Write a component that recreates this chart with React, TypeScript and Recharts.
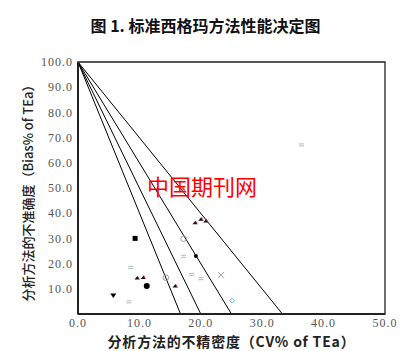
import React from 'react';
import {
  ScatterChart,
  Scatter,
  XAxis,
  YAxis,
  ReferenceLine,
  ReferenceArea,
} from 'recharts';

// sigma levels and where each line meets the x axis (CV% of TEa)
const sigmaLevels = [6, 5, 4, 3];
const sigmaIntercepts = [16.7, 20, 25, 33.3];

const xTicks = [0, 10, 20, 30, 40, 50];
const yTicks = [10, 20, 30, 40, 50, 60, 70, 80, 90, 100];

// points, grouped by marker
const squareBlack = [{ cv: 9.3, bias: 30.0 }];
const circleBlack = [{ cv: 11.2, bias: 11.1 }];
const dotBlack = [{ cv: 19.2, bias: 23.0 }];
const triangleDownBlack = [{ cv: 5.75, bias: 7.3 }];
const triangleBlack = [
  { cv: 9.6, bias: 14.3 },
  { cv: 10.6, bias: 14.5 },
  { cv: 15.8, bias: 11.1 },
  { cv: 19.05, bias: 36.2 },
  { cv: 20.0, bias: 37.6 },
  { cv: 20.8, bias: 36.9 },
];
const openCircleGrey = [
  { cv: 14.3, bias: 14.4 },
  { cv: 17.2, bias: 29.9 },
];
const smallGrey = [
  { cv: 8.6, bias: 18.5 },
  { cv: 8.3, bias: 4.8 },
  { cv: 17.2, bias: 22.9 },
  { cv: 18.5, bias: 15.7 },
  { cv: 20.0, bias: 14.0 },
  { cv: 36.4, bias: 67.1 },
];
const crossGrey = [{ cv: 23.3, bias: 15.5 }];
const diamondCyan = [{ cv: 25.1, bias: 5.3 }];

const cjk = '"Noto Sans CJK SC", sans-serif';
const serif = '"Liberation Serif", "DejaVu Serif", serif';

type P = { cx?: number; cy?: number };

const Square = ({ cx = 0, cy = 0 }: P) => (
  <rect x={cx - 2.5} y={cy - 2.5} width={5} height={5} fill="#000" />
);
const Circle = ({ cx = 0, cy = 0 }: P) => <circle cx={cx} cy={cy} r={3} fill="#000" />;
const Dot = ({ cx = 0, cy = 0 }: P) => <circle cx={cx} cy={cy} r={2} fill="#000" />;
const TriDown = ({ cx = 0, cy = 0 }: P) => (
  <path d={`M${cx - 3},${cy - 2} L${cx + 3},${cy - 2} L${cx},${cy + 2.5} Z`} fill="#000" />
);
const Tri = ({ cx = 0, cy = 0 }: P) => (
  <g>
    <path d={`M${cx - 2.5},${cy + 1.5} L${cx + 2.5},${cy + 1.5} L${cx + 0.5},${cy - 2} Z`} fill="#111" />
    <path d={`M${cx + 0.5},${cy - 2} L${cx + 2.5},${cy + 1.5}`} stroke="#c33" strokeWidth={0.8} />
  </g>
);
const OpenCircle = ({ cx = 0, cy = 0 }: P) => (
  <circle cx={cx} cy={cy} r={2.8} fill="none" stroke="#999" strokeWidth={1} />
);
const SmallGrey = ({ cx = 0, cy = 0 }: P) => (
  <g stroke="#9aa" strokeWidth={0.8}>
    <line x1={cx - 2.5} y1={cy - 1} x2={cx + 2.5} y2={cy - 1} />
    <line x1={cx - 2.5} y1={cy + 1} x2={cx + 2.5} y2={cy + 1} />
  </g>
);
const Cross = ({ cx = 0, cy = 0 }: P) => (
  <g stroke="#a9a0b8" strokeWidth={1}>
    <line x1={cx - 3} y1={cy - 3} x2={cx + 3} y2={cy + 3} />
    <line x1={cx - 3} y1={cy + 3} x2={cx + 3} y2={cy - 3} />
  </g>
);
const Diamond = ({ cx = 0, cy = 0 }: P) => (
  <path
    d={`M${cx},${cy - 2.5} L${cx + 2.5},${cy} L${cx},${cy + 2.5} L${cx - 2.5},${cy} Z`}
    fill="none"
    stroke="#6bb"
    strokeWidth={1}
  />
);

export default function App() {
  return (
    <div style={{ position: 'absolute', left: 0, top: 0, width: 411, height: 351, background: '#fff' }}>
      <div
        style={{
          position: 'absolute',
          left: 0,
          width: 411,
          top: 14,
          textAlign: 'center',
          fontFamily: cjk,
          fontSize: 16,
          fontWeight: 600,
          lineHeight: '22px',
          color: '#111',
        }}
      >
        图 1. 标准西格玛方法性能决定图
      </div>
      <ScatterChart width={411} height={351} margin={{ top: 62, right: 26, bottom: 17, left: 0 }}>
        <XAxis
          type="number"
          dataKey="cv"
          domain={[0, 50]}
          ticks={xTicks}
          tickFormatter={(v: number) => v.toFixed(1)}
          tickLine={false}
          tickSize={2}
          tickMargin={2}
          height={20}
          axisLine={{ stroke: '#222', strokeWidth: 2 }}
          tick={{ fill: '#555', fontSize: 12, fontFamily: serif, letterSpacing: 1 }}
        />
        <YAxis
          type="number"
          dataKey="bias"
          domain={[0, 100]}
          ticks={yTicks}
          tickFormatter={(v: number) => v.toFixed(1)}
          tickLine={false}
          tickSize={3}
          tickMargin={2}
          width={78}
          axisLine={{ stroke: '#222', strokeWidth: 2 }}
          tick={{ fill: '#555', fontSize: 12, fontFamily: serif, letterSpacing: 1 }}
        />
        <ReferenceArea x1={0} x2={50} y1={0} y2={100} fill="none" stroke="#222" strokeWidth={1.3} />
        {sigmaLevels.map((s, i) => (
          <ReferenceLine
            key={s}
            segment={[
              { x: 0, y: 100 },
              { x: sigmaIntercepts[i], y: 0 },
            ]}
            stroke="#000"
            strokeWidth={1}
          />
        ))}
        <Scatter data={squareBlack} shape={<Square />} isAnimationActive={false} />
        <Scatter data={circleBlack} shape={<Circle />} isAnimationActive={false} />
        <Scatter data={dotBlack} shape={<Dot />} isAnimationActive={false} />
        <Scatter data={triangleDownBlack} shape={<TriDown />} isAnimationActive={false} />
        <Scatter data={triangleBlack} shape={<Tri />} isAnimationActive={false} />
        <Scatter data={openCircleGrey} shape={<OpenCircle />} isAnimationActive={false} />
        <Scatter data={smallGrey} shape={<SmallGrey />} isAnimationActive={false} />
        <Scatter data={crossGrey} shape={<Cross />} isAnimationActive={false} />
        <Scatter data={diamondCyan} shape={<Diamond />} isAnimationActive={false} />
      </ScatterChart>
      <div
        style={{
          position: 'absolute',
          left: 27,
          top: 190,
          transform: 'translate(-50%, -50%) rotate(-90deg)',
          whiteSpace: 'nowrap',
          fontFamily: cjk,
          fontSize: 13,
          fontWeight: 500,
          color: '#222',
        }}
      >
        分析方法的不准确度（Bias% of TEa）
      </div>
      <div
        style={{
          position: 'absolute',
          left: 78,
          width: 307,
          top: 332,
          textAlign: 'center',
          whiteSpace: 'nowrap',
          fontFamily: cjk,
          fontSize: 14,
          fontWeight: 600,
          letterSpacing: 0.8,
          lineHeight: '18px',
          color: '#222',
        }}
      >
        分析方法的不精密度（CV% of TEa）
      </div>
      <div
        style={{
          position: 'absolute',
          left: 147,
          top: 171,
          fontFamily: cjk,
          fontSize: 22,
          lineHeight: '28px',
          color: '#ff0000',
          whiteSpace: 'nowrap',
        }}
      >
        中国期刊网
      </div>
    </div>
  );
}
